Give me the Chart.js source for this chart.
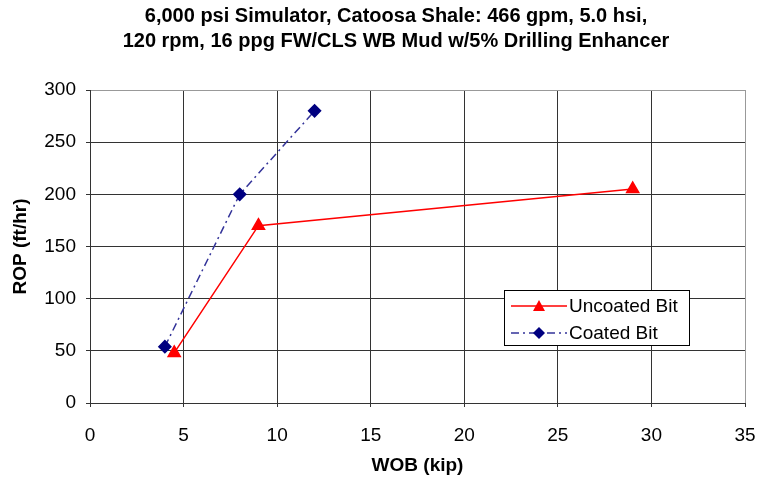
<!DOCTYPE html>
<html>
<head>
<meta charset="utf-8">
<script src="https://cdn.jsdelivr.net/npm/chart.js@4"></script>
<style>
  html, body { margin: 0; padding: 0; background: #fff; }
  #wrap { width: 757px; height: 481px; }
</style>
</head>
<body>
<div id="wrap"><canvas id="ropChart" width="757" height="481"></canvas></div>
<script>
// data
const uncoatedWob = [4.5, 9, 29];
const uncoatedRop = [48, 170, 205];
const coatedWob = [4, 8, 12];
const coatedRop = [54, 200, 280];

const titleLines = [
    "6,000 psi Simulator, Catoosa Shale: 466 gpm, 5.0 hsi,",
    "120 rpm, 16 ppg FW/CLS WB Mud w/5% Drilling Enhancer",
];

const toPoints = (xs, ys) => xs.map((x, i) => ({ x: x, y: ys[i] }));

const FONT = "'Liberation Sans', Arial, sans-serif";

// inner grid dark, outer frame (top/right) grey
const gridColor = (ctx) => (ctx.index === ctx.scale.ticks.length - 1 ? "#999" : "#333");

// title sits a bit right of the canvas centre in the original
const shiftTitle = {
    id: "shiftTitle",
    afterLayout(chart) {
        chart.titleBlock.left += 38;
    },
};

// legend box drawn inside the plot area, like the original
const boxLegend = {
    id: "boxLegend",
    afterDraw(chart) {
        const ctx = chart.ctx;
        const x = 504, y = 290, w = 185, h = 55;
        ctx.save();
        ctx.fillStyle = "#fff";
        ctx.fillRect(x, y, w, h);
        ctx.strokeStyle = "#000";
        ctx.lineWidth = 1;
        ctx.strokeRect(x + 0.5, y + 0.5, w, h);
        ctx.font = "19px " + FONT;
        ctx.textBaseline = "middle";
        ctx.fillStyle = "#000";

        chart.data.datasets.forEach((ds, i) => {
            const ly = y + 16 + i * 27;
            ctx.strokeStyle = ds.borderColor;
            ctx.lineWidth = 1.5;
            ctx.setLineDash(ds.borderDash || []);
            ctx.beginPath();
            ctx.moveTo(x + 7, ly);
            ctx.lineTo(x + 63, ly);
            ctx.stroke();
            ctx.setLineDash([]);
            ctx.fillStyle = ds.pointBackgroundColor;
            const cx = x + 35;
            ctx.beginPath();
            if (ds.pointStyle === "triangle") {
                ctx.moveTo(cx, ly - 6);
                ctx.lineTo(cx + 6, ly + 5);
                ctx.lineTo(cx - 6, ly + 5);
            } else {
                ctx.moveTo(cx, ly - 6);
                ctx.lineTo(cx + 6, ly);
                ctx.lineTo(cx, ly + 6);
                ctx.lineTo(cx - 6, ly);
            }
            ctx.closePath();
            ctx.fill();
            ctx.fillStyle = "#000";
            ctx.fillText(ds.label, x + 65, ly + 1);
        });
        ctx.restore();
    },
};

new Chart(document.getElementById("ropChart").getContext("2d"), {
    type: "scatter",
    data: {
        datasets: [
            {
                label: "Uncoated Bit",
                data: toPoints(uncoatedWob, uncoatedRop),
                showLine: true,
                borderColor: "#ff0000",
                borderWidth: 1.5,
                pointStyle: "triangle",
                pointRadius: 7,
                pointBackgroundColor: "#ff0000",
                pointBorderColor: "#ff0000",
            },
            {
                label: "Coated Bit",
                data: toPoints(coatedWob, coatedRop),
                showLine: true,
                borderColor: "#333399",
                borderWidth: 1.5,
                borderDash: [8, 4, 2, 4],
                pointStyle: "rectRot",
                pointRadius: 6,
                pointBackgroundColor: "#000080",
                pointBorderColor: "#000080",
            },
        ],
    },
    options: {
        responsive: false,
        animation: false,
        layout: { padding: { left: 9, right: 12, top: 4, bottom: 4 } },
        plugins: {
            legend: { display: false },
            tooltip: { enabled: false },
            title: {
                display: true,
                text: titleLines,
                color: "#000",
                font: { family: FONT, size: 20, weight: "bold", lineHeight: 1.25 },
                padding: { top: 0, bottom: 36 },
            },
        },
        scales: {
            x: {
                type: "linear",
                min: 0,
                max: 35,
                ticks: { stepSize: 5, maxRotation: 0, color: "#000", font: { family: FONT, size: 19 }, padding: 17 },
                grid: { color: gridColor, tickColor: "#333", tickLength: 4 },
                border: { color: "#333" },
                title: {
                    display: true,
                    text: "WOB (kip)",
                    color: "#000",
                    font: { family: FONT, size: 19, weight: "bold" },
                    padding: { top: 8, bottom: 0 },
                },
                afterFit(scale) {
                    scale.height = 74;
                    scale.paddingLeft = 0;
                    scale.paddingRight = 0;
                },
            },
            y: {
                type: "linear",
                min: 0,
                max: 300,
                ticks: { stepSize: 50, color: "#000", font: { family: FONT, size: 19 }, padding: 10 },
                grid: { color: gridColor, tickColor: "#333", tickLength: 4 },
                border: { color: "#333" },
                title: {
                    display: true,
                    text: "ROP (ft/hr)",
                    color: "#000",
                    font: { family: FONT, size: 19, weight: "bold" },
                    padding: { top: 0, bottom: 13 },
                },
                afterFit(scale) {
                    scale.width = 81;
                },
            },
        },
    },
    plugins: [shiftTitle, boxLegend],
});
</script>
</body>
</html>
